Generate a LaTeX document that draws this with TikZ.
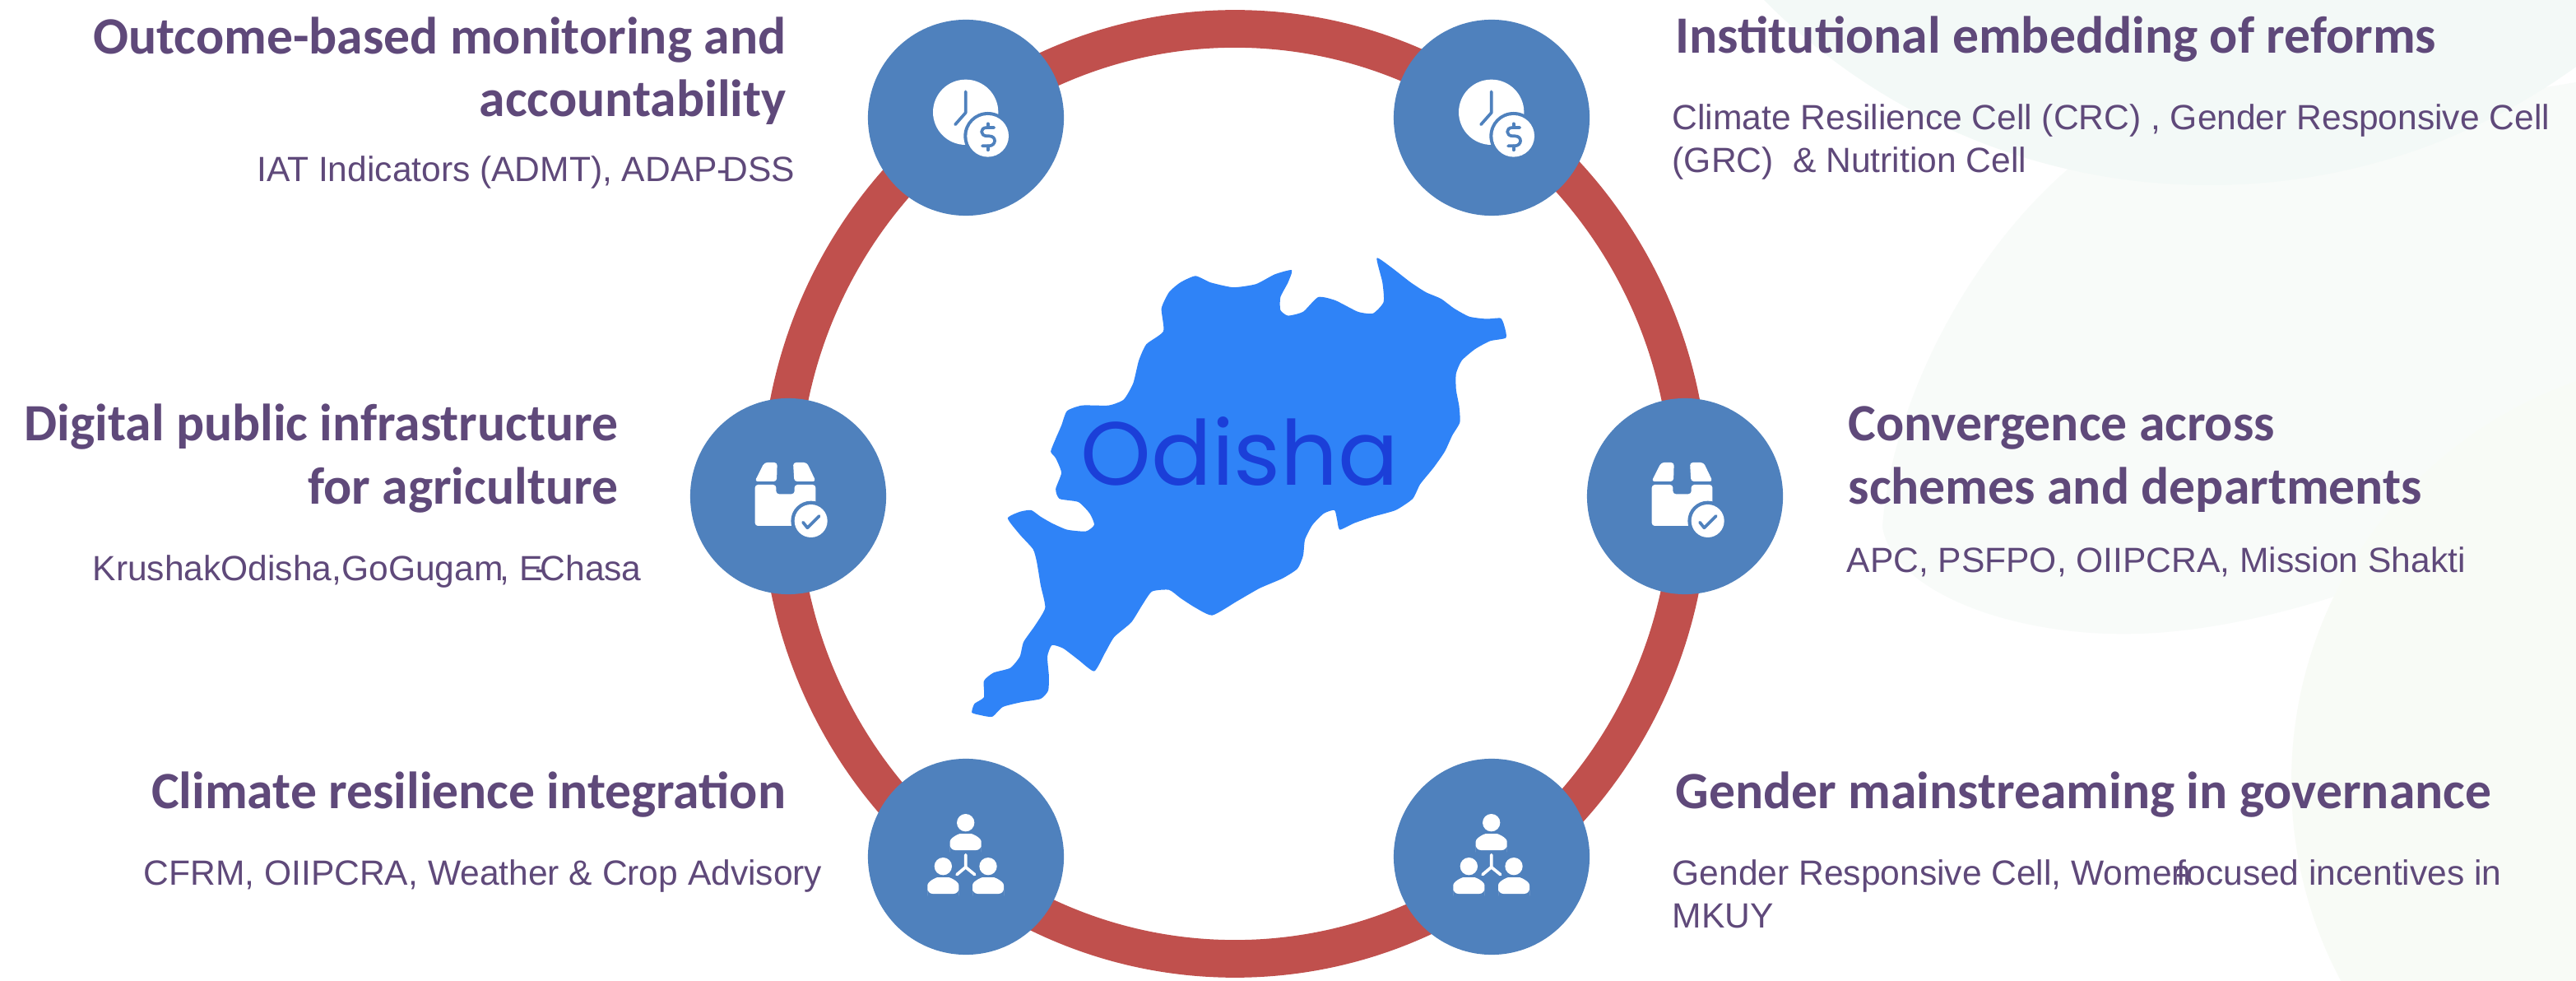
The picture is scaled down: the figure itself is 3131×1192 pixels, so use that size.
\documentclass[tikz,border=0pt]{standalone}
\usepackage{fontspec}
\setmainfont{Liberation Sans}
\newfontfamily\titlefont{Carlito}[BoldFont={Carlito Bold}]
\newfontfamily\mapfont{Poppins}
\definecolor{ringred}{HTML}{C0504D}
\definecolor{bubbleblue}{HTML}{4F81BD}
\definecolor{textpurple}{HTML}{5F497A}
\definecolor{mapblue}{HTML}{2F83F7}
\definecolor{mapink}{HTML}{1B3FD8}
\definecolor{paleA}{HTML}{F3F9F7}
\definecolor{paleB}{HTML}{F8FBF9}
\definecolor{paleC}{HTML}{F8FBF6}
\newcommand{\personaat}[2]{%
  \begin{scope}[shift={(#1,#2)}]
    \fill[white] (0,0) circle (32);
    \fill[white,rounded corners=1.8pt] (-57,100) -- (-57,88) .. controls (-57,55) and (-25,40) .. (0,40)
      .. controls (25,40) and (57,55) .. (57,88) -- (57,100) -- cycle;
  \end{scope}}
\tikzset{
  bubble/.style={circle,fill=bubbleblue,minimum size=2.38cm,inner sep=0pt},
  headR/.style={inner sep=0pt,anchor=base east,text=textpurple,font=\titlefont\bfseries\fontsize{18.1}{18.1}\selectfont},
  headL/.style={inner sep=0pt,anchor=base west,text=textpurple,font=\titlefont\bfseries\fontsize{18.1}{18.1}\selectfont},
  bodyR/.style={inner sep=0pt,anchor=base east,text=textpurple,font=\fontsize{12.1}{12.1}\selectfont},
  bodyL/.style={inner sep=0pt,anchor=base west,text=textpurple,font=\fontsize{12.1}{12.1}\selectfont},
  icoline/.style={line width=1.05pt,line cap=round,line join=round},
  clockicon/.pic={
    \begin{scope}[scale=1/3,shift={(-523,-430)}]
      \fill[white] (522,410) circle (119);
      \fill[bubbleblue] (603,497) circle (88);
      \fill[white] (603,497) circle (76);
      \draw[icoline,bubbleblue] (522,335) -- (522,412) -- (484,455);
      \draw[icoline,bubbleblue] (626,466) -- (600,466) .. controls (572,466) and (575,497) .. (600,497)
        -- (608,497) .. controls (636,497) and (634,533) .. (606,533) -- (583,533);
      \draw[icoline,bubbleblue] (603,452) -- (603,466) (603,533) -- (603,548);
    \end{scope}
  },
  boxicon/.pic={
    \begin{scope}[scale=1/3,shift={(-472,-490)}]
      \fill[white,rounded corners=1pt] (385,367) -- (432,367) -- (430,436) -- (350,436) -- cycle;
      \fill[white,rounded corners=1pt] (490,367) -- (540,367) -- (573,436) -- (494,436) -- cycle;
      \fill[white,rounded corners=1pt] (351,448) -- (428,448) -- (428,482) -- (495,482) -- (495,448) -- (572,448) -- (572,598) -- (351,598) -- cycle;
      \fill[bubbleblue] (555,580) circle (73);
      \fill[white] (555,580) circle (60);
      \draw[icoline,bubbleblue] (526,585) -- (542,605) -- (585,562);
    \end{scope}
  },
  peopleicon/.pic={
    \begin{scope}[scale=1/3,shift={(-463,-422)}]
      \personaat{462}{298}
      \personaat{380}{457}
      \personaat{544}{457}
      \draw[icoline,white] (462,415) -- (462,460) -- (430,487) (462,460) -- (495,487);
    \end{scope}
  }
}
\begin{document}
\begin{tikzpicture}[x=0.01cm,y=-0.01cm]
\useasboundingbox (0,0) rectangle (3131,1192);
\fill[white] (0,0) rectangle (3131,1192);
% pale background shapes
\begin{scope}
  \clip (0,0) rectangle (3131,1192);
  \fill[paleB] (2520,200) .. controls (2400,300) and (2300,480) .. (2288,640)
     .. controls (2300,720) and (2450,775) .. (2600,770)
     .. controls (2750,765) and (2950,700) .. (3131,590) -- (3131,100) -- cycle;
  \fill[paleA] (2685,-538) circle (763);
  \fill[paleC] (3300,950) circle (515);
\end{scope}
% ring
\draw[ringred,line width=13pt] (1501,600) ellipse (553 and 565);
% map
\begin{scope}[shift={(1150,280)},xscale=1/2.178,yscale=1/2.53]
\fill[mapblue] plot[smooth cycle,tension=0.35] coordinates {
(1140,85)(1180,115)(1230,160)(1270,190)(1310,210)(1345,240)(1385,265)(1430,272)(1468,270)(1478,295)(1482,330)(1440,340)(1400,365)(1365,400)(1350,440)(1350,490)(1358,540)(1360,590)(1340,630)(1320,680)(1290,730)(1255,780)(1235,825)(1190,860)(1130,880)(1080,900)(1042,920)(1035,890)(1028,860)(1000,870)(970,905)(950,950)(945,1000)(930,1040)(890,1070)(830,1100)(770,1140)(705,1183)(660,1160)(620,1130)(590,1105)(545,1110)(520,1150)(490,1205)(445,1250)(420,1300)(392,1355)(350,1320)(310,1285)(280,1275)(268,1310)(272,1370)(270,1415)(250,1440)(200,1450)(150,1465)(122,1495)(90,1490)(68,1482)(75,1455)(100,1435)(100,1385)(125,1360)(170,1345)(195,1310)(205,1265)(235,1215)(262,1160)(250,1090)(240,1020)(230,980)(195,935)(163,885)(195,865)(225,860)(250,880)(280,900)(320,920)(370,925)(392,905)(380,870)(350,835)(300,825)(290,795)(305,745)(290,700)(277,680)(290,640)(305,600)(320,555)(360,538)(430,538)(470,520)(495,470)(510,400)(530,350)(575,310)(570,240)(590,190)(620,160)(660,140)(700,160)(760,175)(820,165)(870,135)(915,122)(905,160)(885,205)(885,245)(905,262)(945,250)(985,205)(1030,215)(1090,250)(1130,255)(1158,220)(1155,160)};
\end{scope}
\node[inner sep=0pt,anchor=base,text=mapink,font=\mapfont\fontsize{31}{31}\selectfont] (odisha) at (1507,590) {Odisha};
% bubbles
\node[bubble] (b1) at (1174,143) {};
\node[bubble] (b2) at (1813,143) {};
\node[bubble] (b3) at (958,603) {};
\node[bubble] (b4) at (2048,603) {};
\node[bubble] (b5) at (1174,1041) {};
\node[bubble] (b6) at (1813,1041) {};
\pic at (b1) {clockicon};
\pic at (b2) {clockicon};
\pic at (b3) {boxicon};
\pic at (b4) {boxicon};
\pic at (b5) {peopleicon};
\pic at (b6) {peopleicon};
% left texts
\node[headR] (t1a) at (956,66) {Outcome-based monitoring and};
\node[headR] (t1b) at (956,142) {accountability};
\node[bodyR] (s1) at (967,221) {IAT Indicators (ADMT), ADAP\kern-.02em-\kern-.15em DSS};
\node[headR] (t2a) at (752,536) {Digital public infrastructure};
\node[headR] (t2b) at (752,613) {for agriculture};
\node[bodyL] (s2) at (112,706) {KrushakOdisha,GoGugam\kern-.1em, E\kern-.2em-\kern-.2em Chasa};
\node[headR] (t3) at (956,982) {Climate resilience integration};
\node[bodyR] (s3) at (1000,1075) {CFRM, OIIPCRA, Weather \& Crop Advisory};
% right texts
\node[headL] (t4) at (2036,65) {Institutional embedding of reforms};
\node[bodyL] (s4a) at (2032,158) {Climate Resilience Cell (CRC) , Gender Responsive Cell};
\node[bodyL] (s4b) at (2032,210) {(GRC)\ \ \& Nutrition Cell};
\node[headL] (t5a) at (2246,536) {Convergence across};
\node[headL] (t5b) at (2246,613) {schemes and departments};
\node[bodyL] (s5) at (2244,696) {APC, PSFPO, OIIPCRA, Mission Shakti};
\node[headL] (t6) at (2036,982) {Gender mainstreaming in governance};
\node[bodyL] (s6a) at (2032,1075) {Gender Responsive Cell, Women\kern-.45em-\kern-.3em focused incentives in};
\node[bodyL] (s6b) at (2032,1127) {MKUY};
\end{tikzpicture}
\end{document}
